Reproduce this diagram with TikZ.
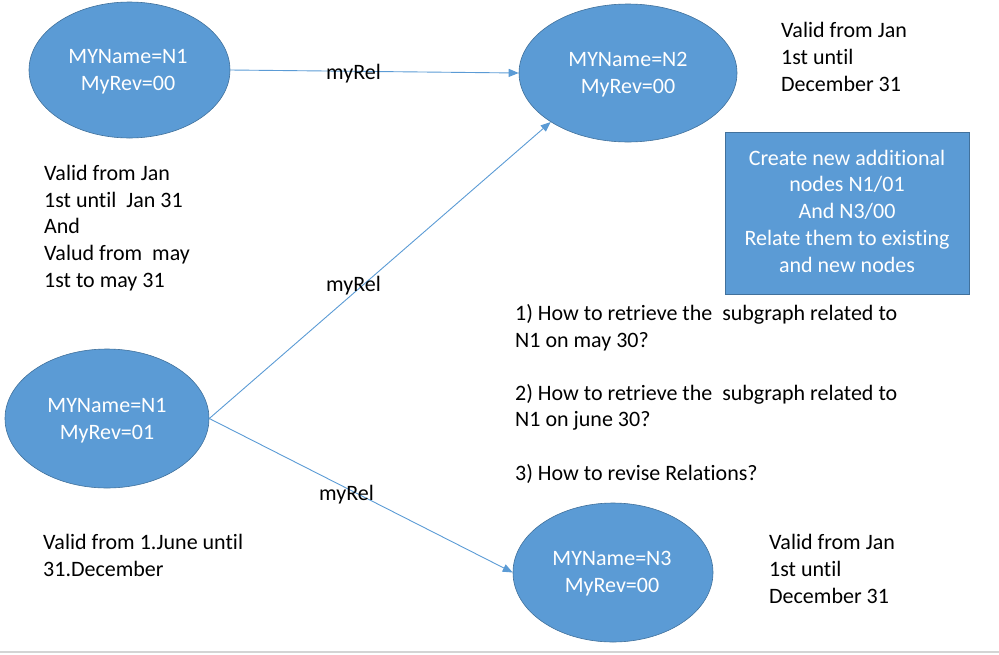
\documentclass[tikz,border=0pt]{standalone}
\usepackage{fontspec}
\setmainfont{Carlito}[Ligatures=CommonOff]
\usetikzlibrary{shapes.geometric,arrows.meta}
\definecolor{nodeblue}{HTML}{5B9BD5}
\definecolor{nodeedge}{HTML}{41719C}
\definecolor{rulegrey}{HTML}{D4D4D4}
\tikzset{
  ent/.style={ellipse, draw=nodeedge, line width=0.6pt, fill=nodeblue, inner sep=0pt},
  enttext/.style={anchor=base, inner sep=0pt, align=center, text=white,
    font=\fontsize{22}{27}\selectfont},
  rel/.style={draw=nodeblue, line width=0.9pt, -{Triangle[length=10pt,width=8pt]}},
  lbl/.style={anchor=base west, inner sep=0pt, align=left, text=black,
    font=\fontsize{22}{26.6}\selectfont},
  infobox/.style={draw=nodeedge, line width=0.8pt, fill=nodeblue, inner sep=0pt},
  boxtext/.style={anchor=base, inner sep=0pt, align=center, text=white,
    font=\fontsize{22}{26.75}\selectfont}
}
\begin{document}
\begin{tikzpicture}[x=1pt,y=-1pt]
\useasboundingbox (0,0) rectangle (999,654);
% bottom rule
\draw[rulegrey, line width=2pt] (0,652) -- (999,652);
% entities
\node[ent, minimum width=201pt, minimum height=136pt] (e1) at (129.5,70) {};
\node[ent, minimum width=218pt, minimum height=138pt] (e2) at (628,73) {};
\node[ent, minimum width=204pt, minimum height=139pt] (e3) at (107,418.5) {};
\node[ent, minimum width=200pt, minimum height=139pt] (e4) at (613,572.5) {};
% entity texts (anchor = baseline of last line)
\node[enttext] (t1) at (128,90) {MYName=N1\\MyRev=00};
\node[enttext] (t2) at (628,93) {MYName=N2\\MyRev=00};
\node[enttext] (t3) at (107,439) {MYName=N1\\MyRev=01};
\node[enttext] (t4) at (612,592) {MYName=N3\\MyRev=00};
% relations
\draw[rel] (e1.east) -- (e2.west);
\draw[rel] (e3.east) -- (e2.south west);
\draw[rel] (e3.east) -- (e4.west);
\node[lbl] (r1) at (326,79) {myRel};
\node[lbl] (r2) at (326,291) {myRel};
\node[lbl] (r3) at (319,500.5) {myRel};
% info box
\node[infobox, minimum width=244pt, minimum height=162pt] (box) at (847,213) {};
\node[boxtext] (boxt) at (847,272)
  {Create new additional\\nodes N1/01\\And N3/00\\Relate them to existing\\and new nodes};
% validity texts
\node[lbl] (v1) at (44,287) {Valid from Jan\\1st until~ Jan 31\\And\\Valud from~ may\\1st to may 31};
\node[lbl] (v2) at (781,91) {Valid from Jan\\1st until\\December 31};
\node[lbl] (v3) at (43,576) {Valid from 1.June until\\31.December};
\node[lbl] (v4) at (769,603) {Valid from Jan\\1st until\\December 31};
% questions
\node[lbl] (q) at (515,480) {1) How to retrieve the~ subgraph related to\\N1 on may 30?\\[26.6pt]2) How to retrieve the~ subgraph related to\\N1 on june 30?\\[26.6pt]3) How to revise Relations?};
\end{tikzpicture}
\end{document}
